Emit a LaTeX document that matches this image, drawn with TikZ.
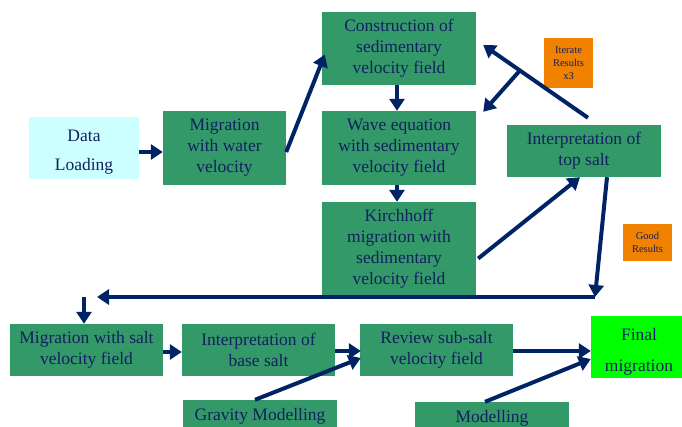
\documentclass[tikz,border=0pt]{standalone}
\usepackage{fontspec}
\setmainfont{Liberation Serif}
\usetikzlibrary{arrows.meta}

\definecolor{boxgreen}{RGB}{52,153,104}
\definecolor{navytext}{RGB}{18,32,96}
\definecolor{navyline}{RGB}{0,35,102}
\definecolor{iterorange}{RGB}{240,130,0}
\definecolor{loadcyan}{RGB}{204,255,255}

\tikzset{
  proc/.style={rectangle, fill=boxgreen, text=navytext, inner sep=0pt, align=center,
    font=\fontsize{17.5}{21}\selectfont},
  note/.style={rectangle, fill=iterorange, text=navytext, inner sep=0pt, align=center,
    font=\fontsize{10.5}{13}\selectfont},
  arr/.style={draw=navyline, line width=4pt, -{Triangle[length=12pt, width=15pt]}}
}

\begin{document}
\begin{tikzpicture}[x=1pt, y=-1pt]
  \useasboundingbox (0,0) rectangle (682,427);
  \clip (0,0) rectangle (682,427);
     \node[proc, fill=loadcyan, minimum width=110pt, minimum height=62pt,
           font=\fontsize{17.5}{29}\selectfont] (load) at (84,148) {\rule{0pt}{19pt}Data\\Loading};
     \node[proc, minimum width=123pt, minimum height=74pt] (migw) at (224.5,148) {Migration\\with water\\velocity};
     \node[proc, minimum width=154pt, minimum height=73pt] (constr) at (399,48.5) {Construction of\\sedimentary\\velocity field};
     \node[proc, minimum width=154pt, minimum height=74pt] (wave) at (399,148) {Wave equation\\with sedimentary\\velocity field};
     \node[proc, minimum width=154pt, minimum height=93pt] (kirch) at (399,248.5) {Kirchhoff\\migration with\\sedimentary\\velocity field};
     \node[note, minimum width=49pt, minimum height=50pt] (iter) at (568.5,63) {Iterate\\Results\\x3};
     \node[proc, minimum width=154pt, minimum height=52pt] (topsalt) at (584,151) {Interpretation of\\top salt};
     \node[note, minimum width=49pt, minimum height=37pt] (good) at (647.5,242.5) {Good\\Results};
    \node[proc, minimum width=153pt, minimum height=52pt] (migsalt) at (86.5,350) {Migration with salt\\velocity field};
    \node[proc, minimum width=153pt, minimum height=52pt] (basesalt) at (258.5,350) {Interpretation of\\base salt};
    \node[proc, minimum width=153pt, minimum height=52pt] (review) at (436.5,350) {Review sub-salt\\velocity field};
    \node[proc, fill=green, minimum width=96pt, minimum height=62pt,
          font=\fontsize{17.5}{31}\selectfont] (final) at (639,347) {\rule{0pt}{21.6pt}Final\\migration};
    \node[proc, minimum width=154pt, minimum height=33pt] (gravity) at (260,416.5) {Gravity Modelling};
    \node[proc, minimum width=154pt, minimum height=33pt] (model) at (492,418.5) {Modelling};
    % free ends of the return line
    \coordinate (rt) at (595,297);
    \coordinate (lt) at (97,297);
    \coordinate (lt0) at (84,297);
    \draw[arr] ([yshift=-4pt]load.east) -- ([yshift=-4pt]migw.west);
    \draw[arr] ([yshift=-4pt]migw.east) -- ([shift={(3pt,-6pt)}]constr.west);
    \draw[arr] ([xshift=-2pt]constr.south) -- ([xshift=-2pt]wave.north);
    \draw[arr] ([xshift=-2pt]wave.south) -- ([xshift=-2pt]kirch.north);
    \draw[arr] ([shift={(2pt,-10pt)}]kirch.east) -- ([xshift=-4pt]topsalt.south);
    \draw[arr] ([xshift=23pt]topsalt.south) -- (rt |- lt);
    \draw[arr] (rt) -- (lt);
    \draw[arr] (lt0) -- ([xshift=-2.5pt]migsalt.north);
    \draw[arr] ([yshift=-2pt]migsalt.east) -- ([yshift=-2pt]basesalt.west);
    \draw[arr] ([yshift=-1pt]basesalt.east) -- ([shift={(1pt,-1pt)}]review.west);
    \draw[arr] ([xshift=-5pt]gravity.north) -- ([shift={(1pt,-8pt)}]review.west);
    \draw[arr] ([yshift=-1pt]review.east) -- ([yshift=-4pt]final.west);
    \draw[arr] ([xshift=-7pt]model.north) -- ([yshift=-12pt]final.west);
    % iterate loop
    \draw[arr] ([shift={(4pt,7pt)}]topsalt.north) -- coordinate[pos=0.65] (split) ([shift={(7pt,3.5pt)}]constr.east);
    \draw[arr] (split) -- ([shift={(7pt,-1pt)}]wave.north east);
\end{tikzpicture}
\end{document}
